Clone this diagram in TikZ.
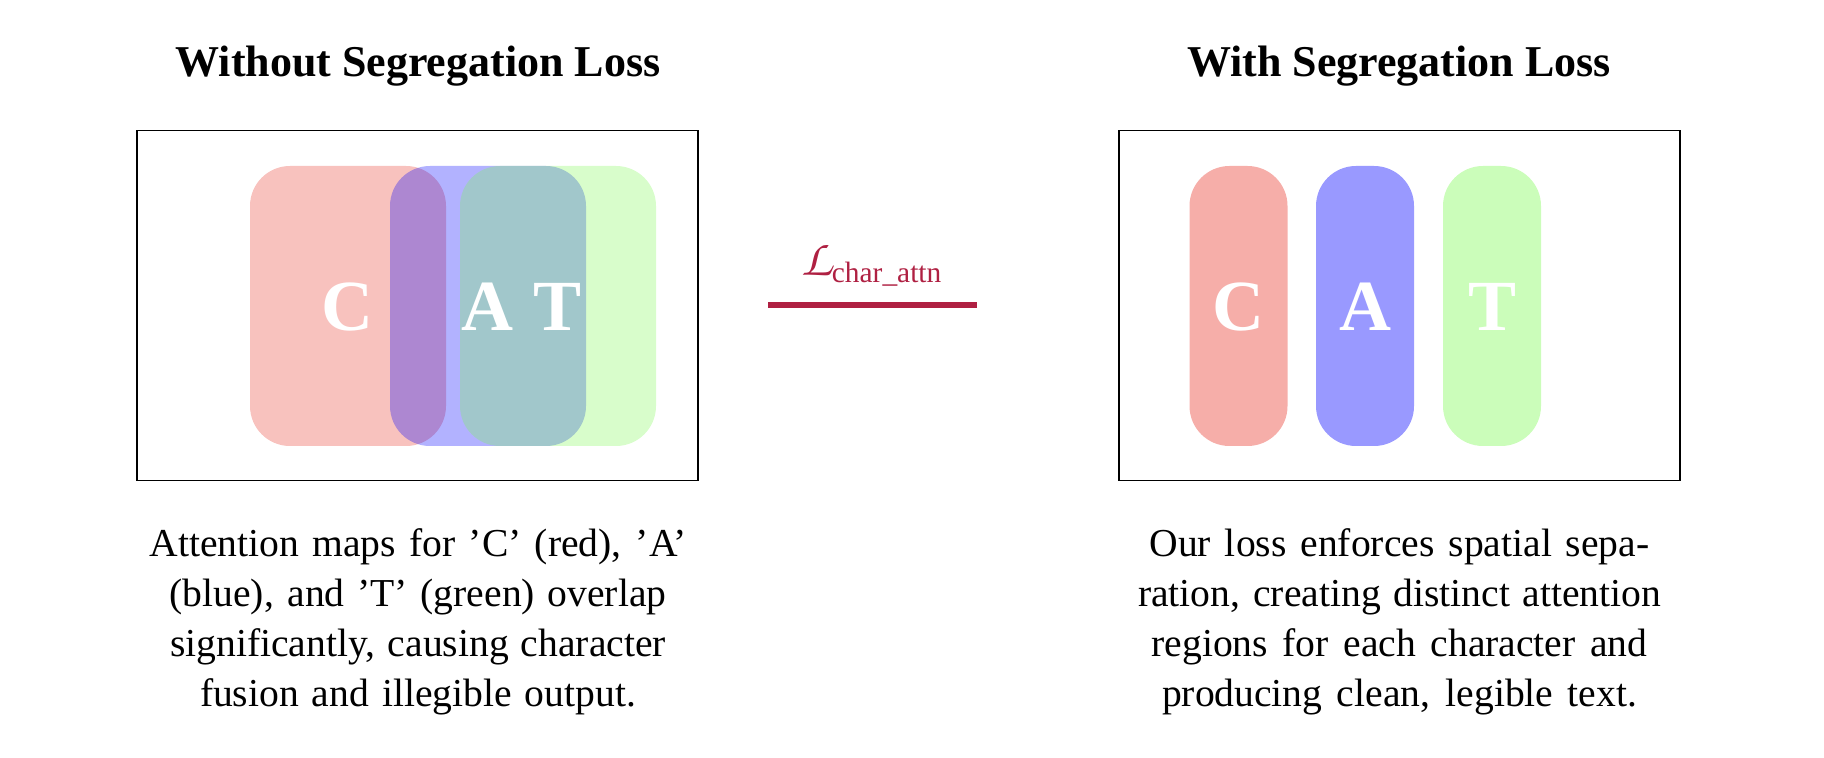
\documentclass[tikz,border=0pt]{standalone}
\usepackage{amsmath}
\usepackage{fontspec}
\setmainfont{Liberation Serif}
\definecolor{cred}{RGB}{232,52,40}
\definecolor{cblue}{RGB}{0,0,255}
\definecolor{cgreen}{RGB}{125,250,82}
\definecolor{lcrim}{RGB}{175,32,66}
\newcommand{\chancL}{{\fontsize{26}{28}\usefont{T1}{pzc}{mb}{it}L}}
\begin{document}
\begin{tikzpicture}[x=0.5pt,y=-0.5pt,
  frame/.style={draw=black,line width=0.7pt,minimum width=280.5pt,minimum height=175pt,inner sep=0pt},
  blobwide/.style={minimum width=98pt,minimum height=140pt,rounded corners=20pt,inner sep=0pt,fill opacity=0.3},
  blobnarrow/.style={minimum width=49pt,minimum height=140pt,rounded corners=20pt,inner sep=0pt,fill opacity=0.4},
  letter/.style={text=white,font=\fontsize{36}{40}\selectfont\bfseries,inner sep=0pt},
  title/.style={font=\fontsize{22}{26}\selectfont\bfseries,anchor=base,inner sep=0pt},
  desc/.style={font=\fontsize{19.8}{25}\selectfont,align=center,anchor=north,inner sep=0pt},
  losslabel/.style={text=lcrim,font=\fontsize{21}{25}\selectfont,anchor=base,inner sep=0pt},
  lossline/.style={draw=lcrim,line width=3.2pt}
]
\useasboundingbox (0,0) rectangle (1824,758);
% titles
\node[title] (t1) at (418,77) {Without Segregation Loss};
\node[title] (t2) at (1399,77) {With Segregation Loss};
% frames
\node[frame] (f1) at (417.5,305.5) {};
\node[frame] (f2) at (1399.5,305.5) {};
% left blobs
\node[blobwide,fill=cred] (lr) at (348,306) {};
\node[blobwide,fill=cblue] (lb) at (488,306) {};
\node[blobwide,fill=cgreen] (lg) at (558,306) {};
\node[letter] (lC) at (347,307) {C};
\node[letter] (lA) at (487,307) {A};
\node[letter] (lT) at (558,307) {T};
% right blobs
\node[blobnarrow,fill=cred] (rr) at (1238.5,306) {};
\node[blobnarrow,fill=cblue] (rb) at (1365,306) {};
\node[blobnarrow,fill=cgreen] (rg) at (1492,306) {};
\node[letter] (rC) at (1238.5,307) {C};
\node[letter] (rA) at (1365,307) {A};
\node[letter] (rT) at (1492,307) {T};
% loss
\node[losslabel] (lab) at (872,276) {\chancL$_{\text{char\_attn}}$};
\coordinate (l1) at (768,305);
\coordinate (l2) at (977,305);
\draw[lossline] (l1) -- (l2);
% descriptions
\node[desc] (d1) at (418,528) {%
\hbox to 268.5pt{Attention maps for 'C' (red), 'A'}\\
\hbox to 248.5pt{(blue), and 'T' (green) overlap}\\
\hbox to 248pt{significantly, causing character}\\
\hbox to 218pt{fusion and illegible output.}};
\node[desc] (d2) at (1399.5,528) {%
\hbox to 250pt{Our loss enforces spatial sepa-}\\
\hbox to 261.5pt{ration, creating distinct attention}\\
\hbox to 248pt{regions for each character and}\\
\hbox to 237.5pt{producing clean, legible text.}};
\end{tikzpicture}
\end{document}
